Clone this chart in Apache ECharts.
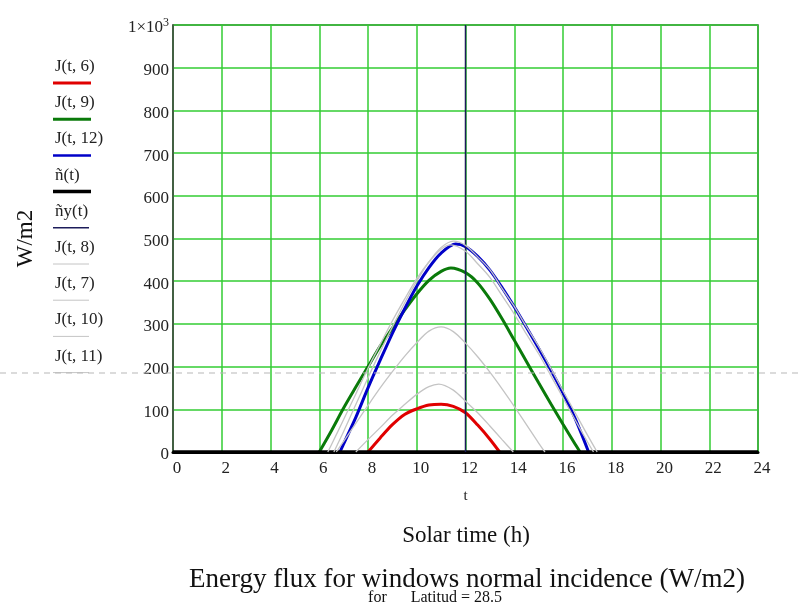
<!DOCTYPE html>
<html>
<head>
<meta charset="utf-8">
<script src="https://cdn.jsdelivr.net/npm/echarts@6/dist/echarts.min.js"></script>
<style>
html,body{margin:0;padding:0;background:#fff;}
#main{width:799px;height:604px;}
</style>
</head>
<body>
<div id="main"></div>
<script>
// ---- data (t in hours, flux in W/m2) ----
const X_TICKS = [0, 2, 4, 6, 8, 10, 12, 14, 16, 18, 20, 22, 24];
const Y_MAX = 1000;
const CURSOR_VALUE = 185;   // horizontal dashed cursor (W/m2)
const CURSOR_T = 12;        // vertical cursor (h)

const J6 = [[8.0,0],[8.5,33],[9.0,64],[9.5,88],[10.0,101],[10.5,110],[11.0,112],[11.5,107],[12.0,92],[12.5,63],[13.0,30],[13.4,0]];
const J9 = [[6.0,0],[6.5,50],[7.0,103],[7.5,152],[8.0,200],[8.5,248],[9.0,290],[9.5,332],[10.0,370],[10.5,402],[11.0,423],[11.4,431],[12.0,420],[12.5,396],[13.0,358],[13.5,312],[14.0,262],[14.5,212],[15.0,162],[15.5,113],[16.0,65],[16.5,18],[16.7,0]];
const J12 = [[6.85,0],[7.0,19],[7.5,81],[8.0,150],[8.5,215],[9.0,278],[9.5,335],[10.0,388],[10.5,432],[11.0,466],[11.6,487],[12.0,481],[12.5,458],[13.0,426],[13.5,385],[14.0,340],[14.5,292],[15.0,243],[15.5,192],[16.0,138],[16.5,78],[17.05,0]];
const N_T = [[0,0],[24,0]];
const NY_T = [[CURSOR_T,0],[CURSOR_T,Y_MAX]];
const J8 = [[6.7,0],[7.0,25],[7.5,67],[8.0,109],[8.5,150],[9.0,188],[9.5,224],[10.0,256],[10.5,283],[11.0,293],[11.5,282],[12.0,255],[12.5,223],[13.0,187],[13.5,148],[14.0,107],[14.5,64],[15.0,21],[15.26,0]];
const J7 = [[7.5,0],[8.0,29],[8.5,57],[9.0,86],[9.5,111],[10.0,135],[10.5,153],[10.9,159],[11.5,145],[12.0,119],[12.5,92],[13.0,61],[13.5,29],[13.96,0]];
const J10 = [[6.35,0],[6.5,17],[7.0,76],[7.5,136],[8.0,196],[8.5,252],[9.0,307],[9.5,358],[10.0,406],[10.5,445],[11.0,475],[11.4,485],[12.0,470],[12.5,441],[13.0,409],[13.5,366],[14.0,323],[14.5,276],[15.0,230],[15.5,179],[16.0,127],[16.5,75],[17.0,24],[17.25,0]];
const J11 = [[6.6,0],[7.0,48],[7.5,111],[8.0,174],[8.5,235],[9.0,293],[9.5,349],[10.0,400],[10.5,445],[11.0,479],[11.5,494],[12.0,484],[12.5,457],[13.0,427],[13.5,383],[14.0,341],[14.5,293],[15.0,247],[15.5,196],[16.0,143],[16.5,92],[17.0,40],[17.4,0]];

const SERIES_DEF = [
  {name:'J(t, 6)',  data:J6,   color:'#e00000', width:3,   legendWidth:3},
  {name:'J(t, 9)',  data:J9,   color:'#0a7a0a', width:3,   legendWidth:3},
  {name:'J(t, 12)', data:J12,  color:'#0000c8', width:3,   legendWidth:2.5},
  {name:'ñ(t)',     data:N_T,  color:'#000000', width:3.5, legendWidth:3.5},
  {name:'ñy(t)',    data:NY_T, color:'#1c1c5a', width:1.5, legendWidth:1.5},
  {name:'J(t, 8)',  data:J8,   color:'#c4c4c4', width:1.3, legendWidth:1},
  {name:'J(t, 7)',  data:J7,   color:'#c4c4c4', width:1.3, legendWidth:1},
  {name:'J(t, 10)', data:J10,  color:'#c4c4c4', width:1.3, legendWidth:1},
  {name:'J(t, 11)', data:J11,  color:'#c4c4c4', width:1.3, legendWidth:1}
];

const SERIF = '"Liberation Serif", "DejaVu Serif", serif';
const GRID = {left:173, right:41, top:25, bottom:152};

const chart = echarts.init(document.getElementById('main'), null, {renderer:'canvas'});

const legendGraphics = [];
SERIES_DEF.forEach((s, i) => {
  const y0 = 58 + i * 36.2;
  legendGraphics.push({
    type:'text', id:'lt'+i, left:55, top:y0,
    style:{text:s.name, font:'17px ' + SERIF, fill:'#222'}
  });
  legendGraphics.push({
    type:'line', id:'ll'+i,
    shape:{x1:53, y1:y0+25, x2:(s.color === '#c4c4c4' || s.name === 'ñy(t)') ? 89 : 91, y2:y0+25},
    style:{stroke:s.color, lineWidth:s.legendWidth}
  });
});

const option = {
  animation:false,
  backgroundColor:'#ffffff',
  grid:{left:GRID.left, right:GRID.right, top:GRID.top, bottom:GRID.bottom, show:true,
        borderColor:'#444', borderWidth:1.5, backgroundColor:'transparent'},
  title:[
    {text:'Solar time (h)', left:461, top:519, textAlign:'center',
     textStyle:{fontFamily:SERIF, fontSize:23, fontWeight:'normal', color:'#111'}},
    {text:'Energy flux for windows normal incidence (W/m2)', left:462, top:561, textAlign:'center',
     textStyle:{fontFamily:SERIF, fontSize:27, fontWeight:'normal', color:'#111'}},
    {text:'for      Latitud = 28.5', left:430, top:585, textAlign:'center',
     textStyle:{fontFamily:SERIF, fontSize:16, fontWeight:'normal', color:'#111'}}
  ],
  xAxis:{
    type:'value', min:X_TICKS[0], max:X_TICKS[X_TICKS.length-1], interval:2,
    name:'t', nameLocation:'middle', nameGap:37,
    nameTextStyle:{fontFamily:SERIF, fontSize:15, color:'#222'},
    axisLine:{show:true, onZero:false, lineStyle:{color:'#000', width:3}},
    axisTick:{show:false},
    axisLabel:{fontFamily:SERIF, fontSize:17, color:'#222', margin:8, padding:[0,0,0,8]},
    splitLine:{show:true, lineStyle:{color:'#33cc33', width:1.5}}
  },
  yAxis:{
    type:'value', min:0, max:Y_MAX, interval:100,
    name:'W/m2', nameLocation:'middle', nameGap:136, nameRotate:90,
    nameTextStyle:{fontFamily:SERIF, fontSize:23, color:'#111'},
    axisLine:{show:true, lineStyle:{color:'#444', width:1.5}},
    axisTick:{show:false},
    axisLabel:{fontFamily:SERIF, fontSize:17, color:'#222', margin:4, padding:[6,0,0,0],
      formatter:v => v === Y_MAX ? '1×10{sup|3}' : String(v),
      rich:{sup:{fontFamily:SERIF, fontSize:12, color:'#222', verticalAlign:'top', padding:[0,0,10,0]}}},
    splitLine:{show:true, lineStyle:{color:'#33cc33', width:1.5}}
  },
  series:SERIES_DEF.map(s => ({
    name:s.name, type:'line', data:s.data, showSymbol:false, smooth:0.3,
    clip:true, lineStyle:{color:s.color, width:s.width}, itemStyle:{color:s.color}
  })),
  graphic:legendGraphics
};

chart.setOption(option);

const yPix = chart.convertToPixel({gridIndex:0}, [0, CURSOR_VALUE])[1];
chart.setOption({
  graphic:legendGraphics.concat([{
    type:'line', id:'cursorH', z:100,
    shape:{x1:0, y1:yPix, x2:799, y2:yPix},
    style:{stroke:'#b8b8b8', lineWidth:1.2, lineDash:[6,5]}
  }])
});
</script>
</body>
</html>
